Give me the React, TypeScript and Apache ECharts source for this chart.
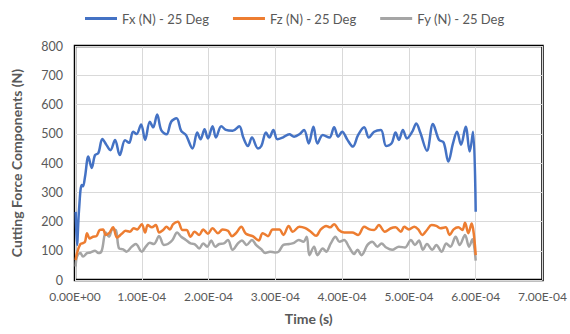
import React, { useEffect, useRef } from "react";
import * as echarts from "echarts";

// time in microseconds (1e-6 s)
const fxTime = [1, 3, 6, 10, 12, 15, 20, 25, 30, 35, 41, 47, 53, 60, 67, 75, 81, 87, 92, 99, 105, 112, 117, 123, 129, 137, 144, 152, 159, 166, 176, 183, 188, 194, 199, 206, 211, 219, 226, 236, 246, 252, 259, 265, 274, 279, 286, 291, 297, 303, 311, 321, 328, 336, 343, 350, 357, 363, 371, 381, 388, 394, 400, 408, 416, 424, 433, 440, 448, 458, 466, 474, 480, 485, 491, 497, 505, 511, 517, 527, 536, 545, 552, 559, 566, 572, 578, 585, 591, 596, 600];
const fxValues = [233, 120, 239, 325, 320, 353, 422, 383, 427, 434, 482, 462, 444, 479, 427, 478, 469, 507, 499, 532, 479, 541, 522, 566, 513, 498, 541, 553, 510, 496, 450, 504, 481, 515, 484, 526, 487, 526, 513, 510, 526, 487, 458, 487, 450, 458, 504, 487, 513, 481, 487, 498, 490, 498, 513, 467, 524, 467, 496, 487, 522, 490, 507, 479, 456, 496, 522, 487, 507, 513, 458, 467, 504, 479, 513, 484, 507, 535, 504, 442, 533, 479, 470, 405, 467, 507, 462, 524, 439, 507, 233];

const fzTime = [1, 3, 8, 12, 15, 18, 22, 27, 32, 37, 42, 46, 51, 57, 63, 70, 76, 82, 88, 93, 100, 105, 109, 115, 121, 126, 132, 137, 142, 147, 154, 161, 167, 173, 179, 186, 192, 199, 206, 214, 221, 229, 235, 241, 249, 256, 266, 275, 281, 289, 296, 306, 312, 320, 326, 336, 345, 353, 361, 368, 376, 382, 388, 395, 403, 415, 424, 433, 441, 448, 455, 464, 473, 480, 488, 493, 500, 508, 514, 520, 527, 534, 541, 547, 555, 561, 567, 574, 580, 584, 589, 594, 597, 600];
const fzValues = [68, 92, 123, 126, 131, 160, 142, 148, 150, 171, 173, 154, 160, 180, 145, 158, 168, 165, 177, 173, 191, 162, 188, 180, 188, 162, 171, 182, 173, 191, 199, 171, 171, 148, 165, 154, 173, 158, 177, 160, 173, 168, 150, 160, 182, 158, 150, 135, 160, 150, 173, 173, 154, 185, 165, 182, 177, 165, 151, 173, 185, 180, 191, 171, 162, 162, 154, 182, 173, 171, 188, 165, 177, 180, 165, 182, 173, 182, 173, 154, 171, 188, 185, 177, 180, 154, 173, 180, 171, 196, 160, 193, 160, 85];

const fyTime = [1, 3, 8, 12, 18, 23, 30, 35, 40, 46, 51, 56, 61, 66, 72, 77, 85, 91, 100, 106, 112, 118, 126, 133, 139, 146, 153, 159, 166, 173, 179, 186, 192, 198, 204, 210, 216, 223, 229, 236, 244, 250, 257, 265, 271, 279, 285, 292, 299, 305, 312, 321, 328, 335, 342, 347, 351, 358, 363, 371, 376, 383, 390, 396, 403, 410, 418, 423, 429, 438, 445, 453, 459, 466, 475, 485, 494, 503, 509, 515, 521, 527, 535, 541, 549, 556, 562, 570, 576, 584, 590, 595, 600];
const fyValues = [46, 80, 92, 80, 92, 94, 100, 92, 100, 162, 148, 173, 171, 108, 105, 97, 114, 123, 97, 114, 127, 123, 150, 120, 123, 137, 162, 148, 137, 125, 123, 108, 125, 114, 135, 114, 123, 125, 137, 103, 125, 135, 120, 137, 120, 105, 92, 97, 94, 97, 120, 123, 127, 137, 131, 148, 85, 114, 85, 108, 97, 125, 148, 131, 137, 114, 89, 103, 85, 120, 131, 114, 125, 111, 103, 114, 111, 137, 120, 135, 103, 123, 103, 120, 97, 125, 114, 148, 120, 154, 114, 139, 66];

const xTickLabels = ["0.00E+00", "1.00E-04", "2.00E-04", "3.00E-04", "4.00E-04", "5.00E-04", "6.00E-04", "7.00E-04"];
const seriesNames = ["Fx (N) - 25 Deg", "Fz (N) - 25 Deg", "Fy (N) - 25 Deg"];
const colors = ["#4472C4", "#ED7D31", "#A5A5A5"];

const pairs = (t: number[], v: number[]) => t.map((x, i) => [x, v[i]]);

const FONT = "Lato";
const TXT = "#595959";

export default function App() {
  const ref = useRef<HTMLDivElement>(null);
  useEffect(() => {
    const chart = echarts.init(ref.current!, null, { renderer: "svg" });
    const data = [pairs(fxTime, fxValues), pairs(fzTime, fzValues), pairs(fyTime, fyValues)];
    chart.setOption({
      animation: false,
      backgroundColor: "#fff",
      textStyle: { fontFamily: FONT },
      color: colors,
      legend: {
        left: 80,
        top: 7,
        itemWidth: 32,
        itemHeight: 3,
        itemGap: 24,
        icon: "rect",
        textStyle: { color: TXT, fontSize: 13, fontFamily: FONT },
        data: seriesNames,
      },
      grid: {
        left: 75,
        right: 26,
        top: 46,
        bottom: 54,
        show: true,
        borderColor: "#000",
        borderWidth: 2.5,
      },
      xAxis: {
        type: "value",
        min: 0,
        max: 700,
        interval: 100,
        name: "Time (s)",
        nameLocation: "middle",
        nameGap: 31,
        nameTextStyle: { color: TXT, fontSize: 14, fontWeight: "bold", fontFamily: FONT },
        axisLine: { show: false },
        axisTick: { show: false },
        axisLabel: {
          color: TXT,
          fontSize: 12,
          margin: 10,
          formatter: (v: number) => xTickLabels[Math.round(v / 100)] ?? "",
        },
        splitLine: { show: true, lineStyle: { color: "#D9D9D9", width: 1 } },
      },
      yAxis: {
        type: "value",
        min: 0,
        max: 800,
        interval: 100,
        name: "Cutting Force Components (N)",
        nameLocation: "middle",
        nameGap: 52,
        nameTextStyle: { color: TXT, fontSize: 14, fontWeight: "bold", fontFamily: FONT },
        axisLine: { show: false },
        axisTick: { show: false },
        axisLabel: { color: TXT, fontSize: 12.5, margin: 12 },
        splitLine: { show: true, lineStyle: { color: "#D9D9D9", width: 1 } },
      },
      series: seriesNames.map((name, i) => ({
        name,
        type: "line",
        data: data[i],
        smooth: 0.35,
        symbol: "none",
        lineStyle: { width: 2.5, color: colors[i] },
        z: 3 - i,
      })),
    });
    return () => chart.dispose();
  }, []);
  return <div ref={ref} style={{ position: "fixed", left: 0, top: 0, width: 570, height: 334 }} />;
}
